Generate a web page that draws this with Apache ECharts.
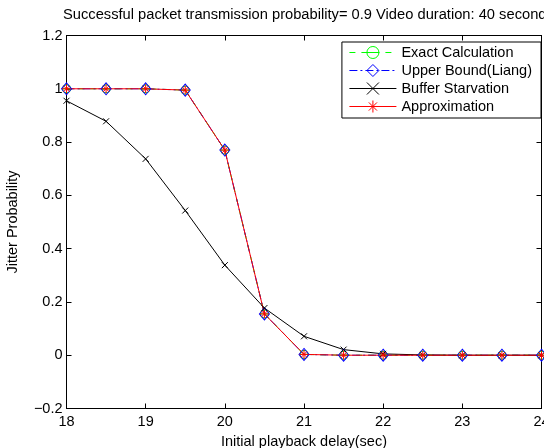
<!DOCTYPE html>
<html><head><meta charset="utf-8">
<script src="https://cdn.jsdelivr.net/npm/echarts@6/dist/echarts.min.js"></script>
<style>html,body{margin:0;padding:0;background:#fff}#c{width:544px;height:448px}</style>
</head><body><div id="c"></div>
<script>
const delays = [18,18.5,19,19.5,20,20.5,21,21.5,22,22.5,23,23.5,24];
const exactCalc = [1,1,1,0.995,0.77,0.155,0.003,0,0,0,0,0,0];
const upperBound = [1,1,1,0.995,0.77,0.155,0.003,0,0,0,0,0,0];
const bufferStarvation = [0.955,0.878,0.737,0.543,0.338,0.177,0.071,0.021,0.005,0.001,0,0,0];
const approximation = [1,1,1,0.995,0.77,0.155,0.003,0,0,0,0,0,0];
const xTicks = [18,19,20,21,22,23,24];
const yTicks = [-0.2,0,0.2,0.4,0.6,0.8,1,1.2];

const pair = arr => delays.map((d,i)=>[d,arr[i]]);
const font = 'Liberation Sans, Arial, sans-serif';
const fs = 14.5;
const chart = echarts.init(document.getElementById('c'), null, {renderer:'canvas'});
const fmtY = v => { const r = parseFloat(v.toFixed(1)); return r < 0 ? '\u2212' + Math.abs(r) : String(r); };
const xSym = 'path://M0,0L10,10M10,0L0,10';
const starSym = 'path://M5,0L5,10M0,5L10,5M1.6,1.6L8.4,8.4M8.4,1.6L1.6,8.4';
const thetaSym = 'path://M5,0A5,5,0,1,1,4.99,0ZM0,5L10,5';
const frameAxis = {axisLine:{show:true, onZero:false, lineStyle:{color:'#000', width:1}},
  axisTick:{inside:true, length:5, lineStyle:{color:'#000'}}, splitLine:{show:false}};

chart.setOption({
  animation:false,
  backgroundColor:'#fff',
  title:{text:'Successful packet transmission probability= 0.9 Video duration: 40 seconds',
    left:58, top:2, textStyle:{fontFamily:font, fontSize:14.7, fontWeight:'normal', color:'#000'}},
  grid:{left:66.5, right:2.5, top:35.5, bottom:39.5, containLabel:false, outerBoundsMode:'none'},
  legend:{orient:'vertical', right:3, top:42, backgroundColor:'#fff', borderColor:'#000', borderWidth:1,
    padding:[3,9,4,7], itemGap:3, itemWidth:47, itemHeight:15,
    lineStyle:{width:1}, itemStyle:{borderWidth:1},
    textStyle:{fontFamily:font, fontSize:fs, color:'#000', lineHeight:15},
    data:['Exact Calculation','Upper Bound(Liang)','Buffer Starvation','Approximation']},
  xAxis:[Object.assign({type:'value', min:18, max:24, interval:1, name:'Initial playback delay(sec)', nameLocation:'middle', nameGap:20,
    nameTextStyle:{fontFamily:font, fontSize:fs, color:'#000'},
    axisLabel:{fontFamily:font, fontSize:fs, color:'#000', margin:6, showMaxLabel:true}}, frameAxis),
   Object.assign({type:'value', position:'top', min:18, max:24, interval:1, axisLabel:{show:false}}, frameAxis)],
  yAxis:[Object.assign({type:'value', min:-0.2, max:1.2, interval:0.2, name:'Jitter Probability', nameLocation:'middle', nameGap:46, nameRotate:90,
    nameTextStyle:{fontFamily:font, fontSize:fs, color:'#000'},
    axisLabel:{fontFamily:font, fontSize:fs, color:'#000', margin:4, formatter:fmtY}}, frameAxis),
   Object.assign({type:'value', position:'right', min:-0.2, max:1.2, interval:0.2, axisLabel:{show:false}}, frameAxis)],
  series:[
    {name:'Exact Calculation', type:'line', data:pair(exactCalc), symbol:thetaSym, symbolSize:8,
      lineStyle:{color:'#00ff00', width:1, type:[6,6]},
      itemStyle:{color:'rgba(0,0,0,0)', borderColor:'#00ff00', borderWidth:1}},
    {name:'Upper Bound(Liang)', type:'line', data:pair(upperBound), symbol:'diamond', symbolSize:[10,12],
      lineStyle:{color:'#0000ff', width:1, type:[8,3,2,3]},
      itemStyle:{color:'rgba(0,0,0,0)', borderColor:'#0000ff', borderWidth:1}},
    {name:'Buffer Starvation', type:'line', data:pair(bufferStarvation), symbol:xSym, symbolSize:6,
      lineStyle:{color:'#000', width:1},
      itemStyle:{color:'rgba(0,0,0,0)', borderColor:'#000', borderWidth:1}},
    {name:'Approximation', type:'line', data:pair(approximation), symbol:starSym, symbolSize:9,
      lineStyle:{color:'#ff0000', width:1},
      itemStyle:{color:'rgba(0,0,0,0)', borderColor:'#ff0000', borderWidth:1}}
  ]
});
</script></body></html>
